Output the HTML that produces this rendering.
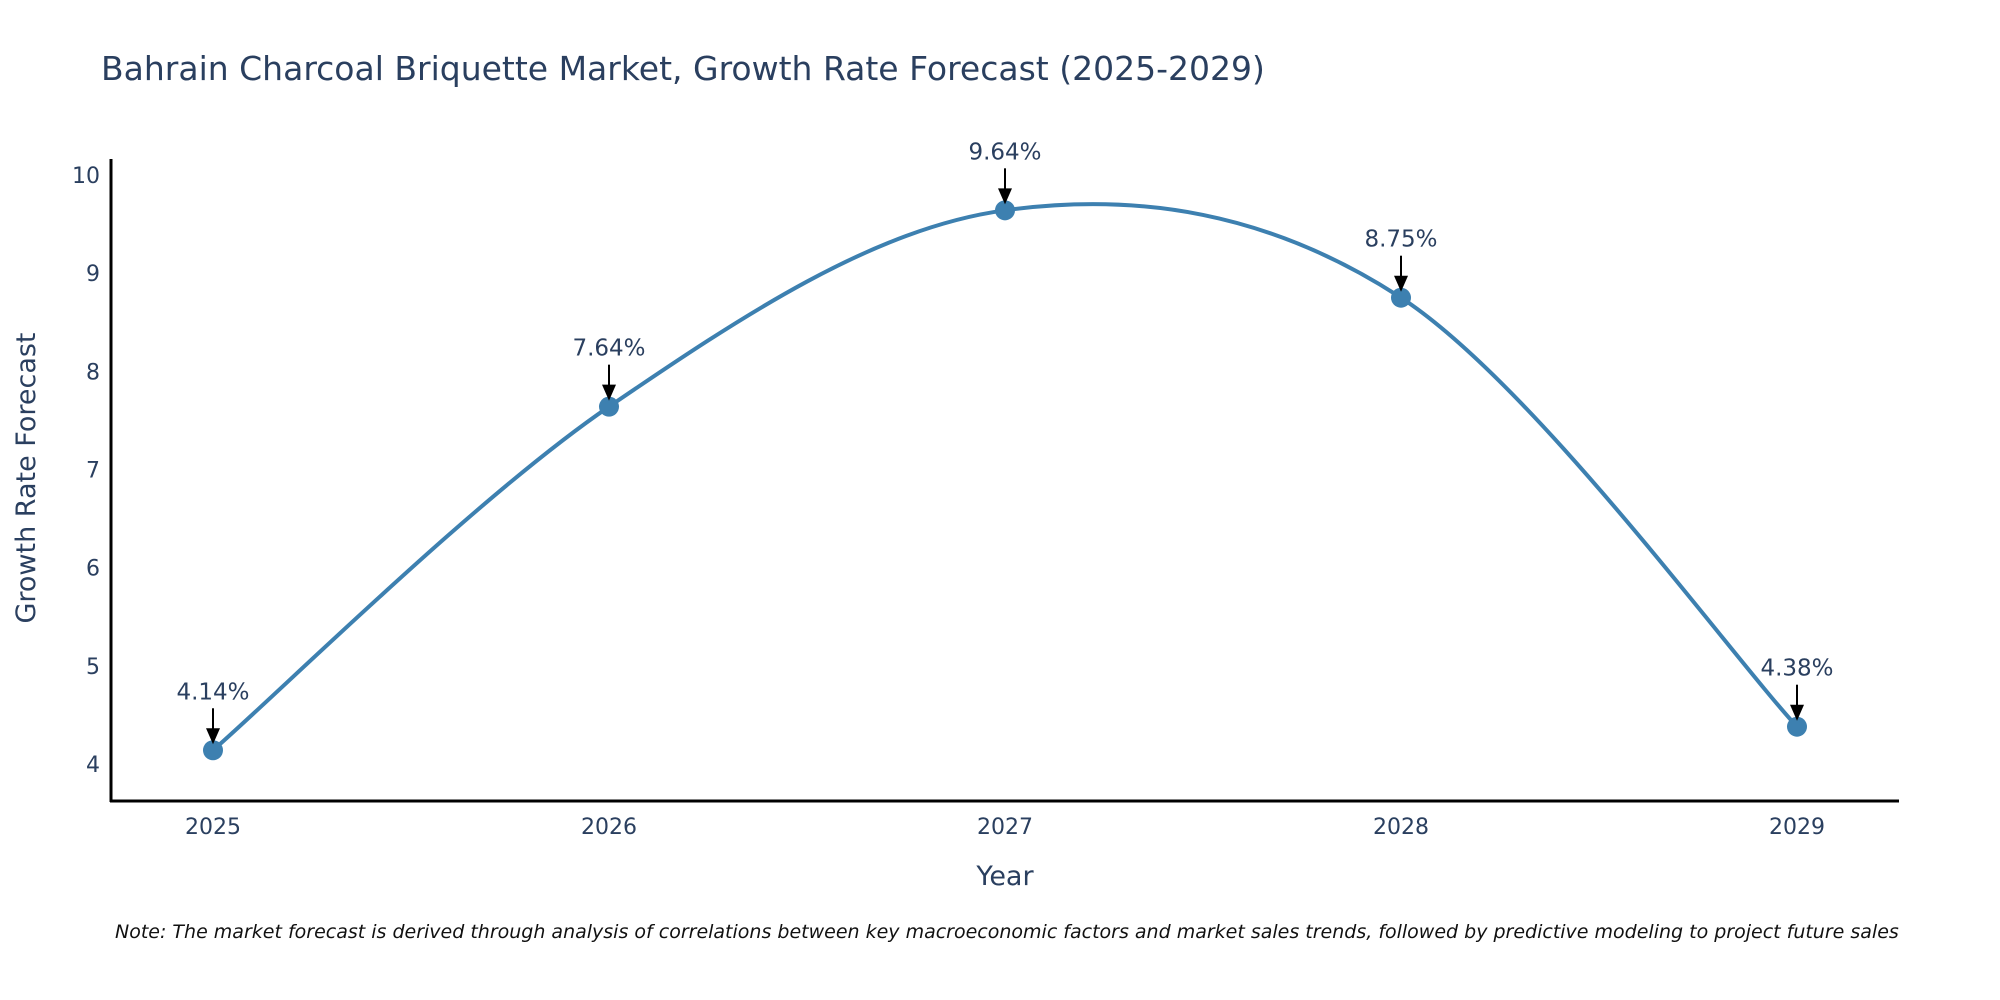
<!DOCTYPE html>
<html><head><meta charset="utf-8"><style>
body{margin:0;background:#fff;}
svg{display:block;font-family:"DejaVu Sans","Liberation Sans",sans-serif;}
</style></head><body>
<svg id="chart" width="2000" height="1000" viewBox="0 0 2000 1000" xmlns="http://www.w3.org/2000/svg">
<text x="101" y="80" font-size="33" fill="#2a3f5f">Bahrain Charcoal Briquette Market, Growth Rate Forecast (2025-2029)</text>
<g id="yticks"></g>
<g id="xticks"></g>
<line x1="111" y1="159" x2="111" y2="802" stroke="#000" stroke-width="3"/>
<line x1="110" y1="801" x2="1899" y2="801" stroke="#000" stroke-width="3"/>
<text transform="translate(35,478) rotate(-90)" text-anchor="middle" font-size="27" fill="#2a3f5f">Growth Rate Forecast</text>
<text x="1005" y="885" text-anchor="middle" font-size="27" fill="#2a3f5f">Year</text>
<g id="series"></g>
<text x="115" y="938" font-size="19" font-style="italic" fill="#111">Note: The market forecast is derived through analysis of correlations between key macroeconomic factors and market sales trends, followed by predictive modeling to project future sales</text>
</svg>
<script>
const years = [2025, 2026, 2027, 2028, 2029];
const growth = [4.14, 7.64, 9.64, 8.75, 4.38];
const labels = ["4.14%", "7.64%", "9.64%", "8.75%", "4.38%"];
const yTicks = [4, 5, 6, 7, 8, 9, 10];

const NS = "http://www.w3.org/2000/svg";
function xs(v){ return 213 + (v - 2025) * 396; }
function ys(v){ return 764 - (v - 4) * 98.17; }
function mk(tag, attrs, parent){ const e = document.createElementNS(NS, tag); for (const k in attrs) e.setAttribute(k, attrs[k]); parent.appendChild(e); return e; }

const yg = document.getElementById('yticks');
yTicks.forEach(t => {
  const e = mk('text', {x: 100, y: ys(t) + 8, 'text-anchor': 'end', 'font-size': 22, fill: '#2a3f5f'}, yg);
  
  
  e.textContent = t;
});
const xg = document.getElementById('xticks');
years.forEach(y => {
  const e = mk('text', {x: xs(y), y: 834, 'text-anchor': 'middle', 'font-size': 22, fill: '#2a3f5f'}, xg);
  
  
  e.textContent = y;
});

const sg = document.getElementById('series');
const pts = years.map((y, i) => [xs(y), ys(growth[i])]);
let d = 'M' + pts[0][0] + ',' + pts[0][1];
const k = 1/6;
for (let i = 0; i < pts.length - 1; i++) {
  const p0 = pts[Math.max(0, i - 1)], p1 = pts[i], p2 = pts[i + 1], p3 = pts[Math.min(pts.length - 1, i + 2)];
  const c1 = [p1[0] + (p2[0] - p0[0]) * k, p1[1] + (p2[1] - p0[1]) * k];
  const c2 = [p2[0] - (p3[0] - p1[0]) * k, p2[1] - (p3[1] - p1[1]) * k];
  d += ' C' + c1[0] + ',' + c1[1] + ' ' + c2[0] + ',' + c2[1] + ' ' + p2[0] + ',' + p2[1];
}
const line = mk('path', {d: d, fill: 'none', stroke: '#3d80b0', 'stroke-width': 4}, sg);



pts.forEach((p, i) => {
  const c = mk('circle', {cx: p[0], cy: p[1], r: 10, fill: '#3d80b0'}, sg);
  
  
  const a = mk('line', {x1: p[0], y1: p[1] - 42, x2: p[0], y2: p[1] - 20, stroke: '#000', 'stroke-width': 2}, sg);
  
  
  const h = mk('polygon', {points: (p[0]-7)+','+(p[1]-22)+' '+(p[0]+7)+','+(p[1]-22)+' '+p[0]+','+(p[1]-6), fill: '#000'}, sg);
  
  
  const t = mk('text', {x: p[0], y: p[1] - 51, 'text-anchor': 'middle', 'font-size': 23, fill: '#2a3f5f'}, sg);
  
  
  t.textContent = labels[i];
});
</script>
</body></html>
